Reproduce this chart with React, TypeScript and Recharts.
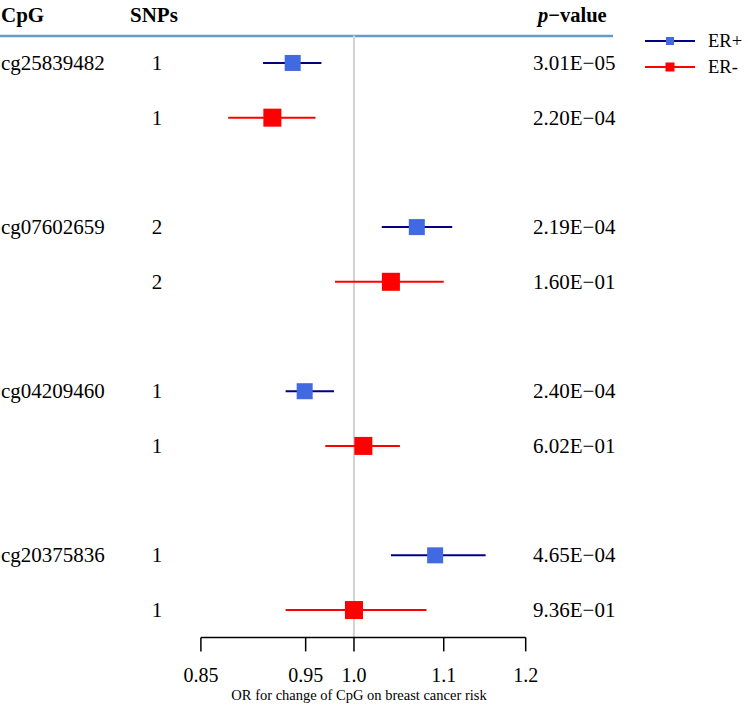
import React from "react";
import { ScatterChart, Scatter, XAxis, YAxis, ErrorBar, ReferenceLine } from "recharts";

// ---- data ----
const cpgNames = ["cg25839482", "cg07602659", "cg04209460", "cg20375836"];
const snpCounts = [1, 2, 1, 1];

const erPosOR = [0.937, 1.069, 0.949, 1.09];
const erPosLo = [0.908, 1.03, 0.93, 1.04];
const erPosHi = [0.966, 1.11, 0.979, 1.15];
const erPosP = ["3.01E\u221205", "2.19E\u221204", "2.40E\u221204", "4.65E\u221204"];

const erNegOR = [0.917, 1.04, 1.01, 1.0];
const erNegLo = [0.875, 0.98, 0.97, 0.93];
const erNegHi = [0.96, 1.1, 1.05, 1.08];
const erNegP = ["2.20E\u221204", "1.60E\u221201", "6.02E\u221201", "9.36E\u221201"];

const xTicks = [0.85, 0.95, 1.0, 1.1, 1.2];
const xTickLabels = ["0.85", "0.95", "1.0", "1.1", "1.2"];

const seriesNames = ["ER+", "ER-"];

const FONT = "'Liberation Serif', 'Times New Roman', serif";

function buildRows(or: number[], lo: number[], hi: number[], p: string[], offset: number) {
  return cpgNames.map((name, i) => ({
    x: or[i],
    y: i * 3 + offset,
    err: [or[i] - lo[i], hi[i] - or[i]],
    name,
    snp: snpCounts[i],
    p: p[i],
  }));
}

const posRows = buildRows(erPosOR, erPosLo, erPosHi, erPosP, 0);
const negRows = buildRows(erNegOR, erNegLo, erNegHi, erNegP, 1);

const makeShape = (size: number, fill: string, showName: boolean) => (props: any) => {
  const { cx, cy, payload } = props;
  return (
    <g>
      <rect x={cx - size / 2} y={cy - size / 2} width={size} height={size} fill={fill} />
      {showName && (
        <text x={1} y={cy + 7} fontSize={21} fontFamily={FONT} fill="#000">
          {payload.name}
        </text>
      )}
      <text x={157} y={cy + 7} fontSize={21} fontFamily={FONT} fill="#000" textAnchor="middle">
        {payload.snp}
      </text>
      <text x={533} y={cy + 7} fontSize={21} fontFamily={FONT} fill="#000">
        {payload.p}
      </text>
    </g>
  );
};

export default function App() {
  return (
    <div style={{ position: "absolute", left: 0, top: 0, width: 748, height: 705, background: "#fff" }}>
      <ScatterChart
        width={748}
        height={705}
        margin={{ top: 35.6, right: 222.3, bottom: 27.6, left: 200.9 }}
      >
        <XAxis
          dataKey="x"
          type="number"
          scale="log"
          domain={[0.85, 1.2]}
          ticks={xTicks}
          tickFormatter={(v: number) => xTickLabels[xTicks.indexOf(v)] ?? String(v)}
          height={40}
          tickSize={14}
          tickMargin={16}
          axisLine={{ stroke: "#000", strokeWidth: 1.5 }}
          tickLine={{ stroke: "#000", strokeWidth: 1.5 }}
          tick={{ fontSize: 20, fontFamily: FONT, fill: "#000" }}
          interval={0}
        />
        <YAxis dataKey="y" type="number" domain={[-0.5, 10.5]} reversed hide width={0} />
        <ReferenceLine x={1} stroke="#d3d3d3" strokeWidth={2} />
        <Scatter
          name={seriesNames[0]}
          data={posRows}
          isAnimationActive={false}
          shape={makeShape(16, "#4169E1", true)}
        >
          <ErrorBar dataKey="err" direction="x" width={0} stroke="#000080" strokeWidth={2} isAnimationActive={false} />
        </Scatter>
        <Scatter
          name={seriesNames[1]}
          data={negRows}
          isAnimationActive={false}
          shape={makeShape(18, "#FF0000", false)}
        >
          <ErrorBar dataKey="err" direction="x" width={0} stroke="#FF0000" strokeWidth={2} isAnimationActive={false} />
        </Scatter>

        {/* header */}
        <line x1={0} y1={36} x2={613} y2={36} stroke="#6699CC" strokeWidth={2.5} />
        <text x={1} y={22} fontSize={21} fontWeight="bold" fontFamily={FONT} fill="#000">CpG</text>
        <text x={130} y={22} fontSize={21} fontWeight="bold" fontFamily={FONT} fill="#000">SNPs</text>
        <text x={538} y={22} fontSize={20.5} fontWeight="bold" fontFamily={FONT} fill="#000">
          <tspan fontStyle="italic">p</tspan>
          <tspan>{"\u2212value"}</tspan>
        </text>

        {/* legend */}
        <g>
          <line x1={645} y1={41} x2={695} y2={41} stroke="#000080" strokeWidth={2} />
          <rect x={666} y={37} width={8} height={8} fill="#4169E1" />
          <text x={708} y={47} fontSize={18.5} fontFamily={FONT} fill="#000">{seriesNames[0]}</text>
          <line x1={645} y1={67} x2={695} y2={67} stroke="#FF0000" strokeWidth={2} />
          <rect x={665.5} y={62.5} width={9} height={9} fill="#FF0000" />
          <text x={708} y={73} fontSize={18.5} fontFamily={FONT} fill="#000">{seriesNames[1]}</text>
        </g>

        {/* x axis title */}
        <text x={359} y={700} fontSize={14.5} fontFamily={FONT} fill="#000" textAnchor="middle">
          OR for change of CpG on breast cancer risk
        </text>
      </ScatterChart>
    </div>
  );
}
